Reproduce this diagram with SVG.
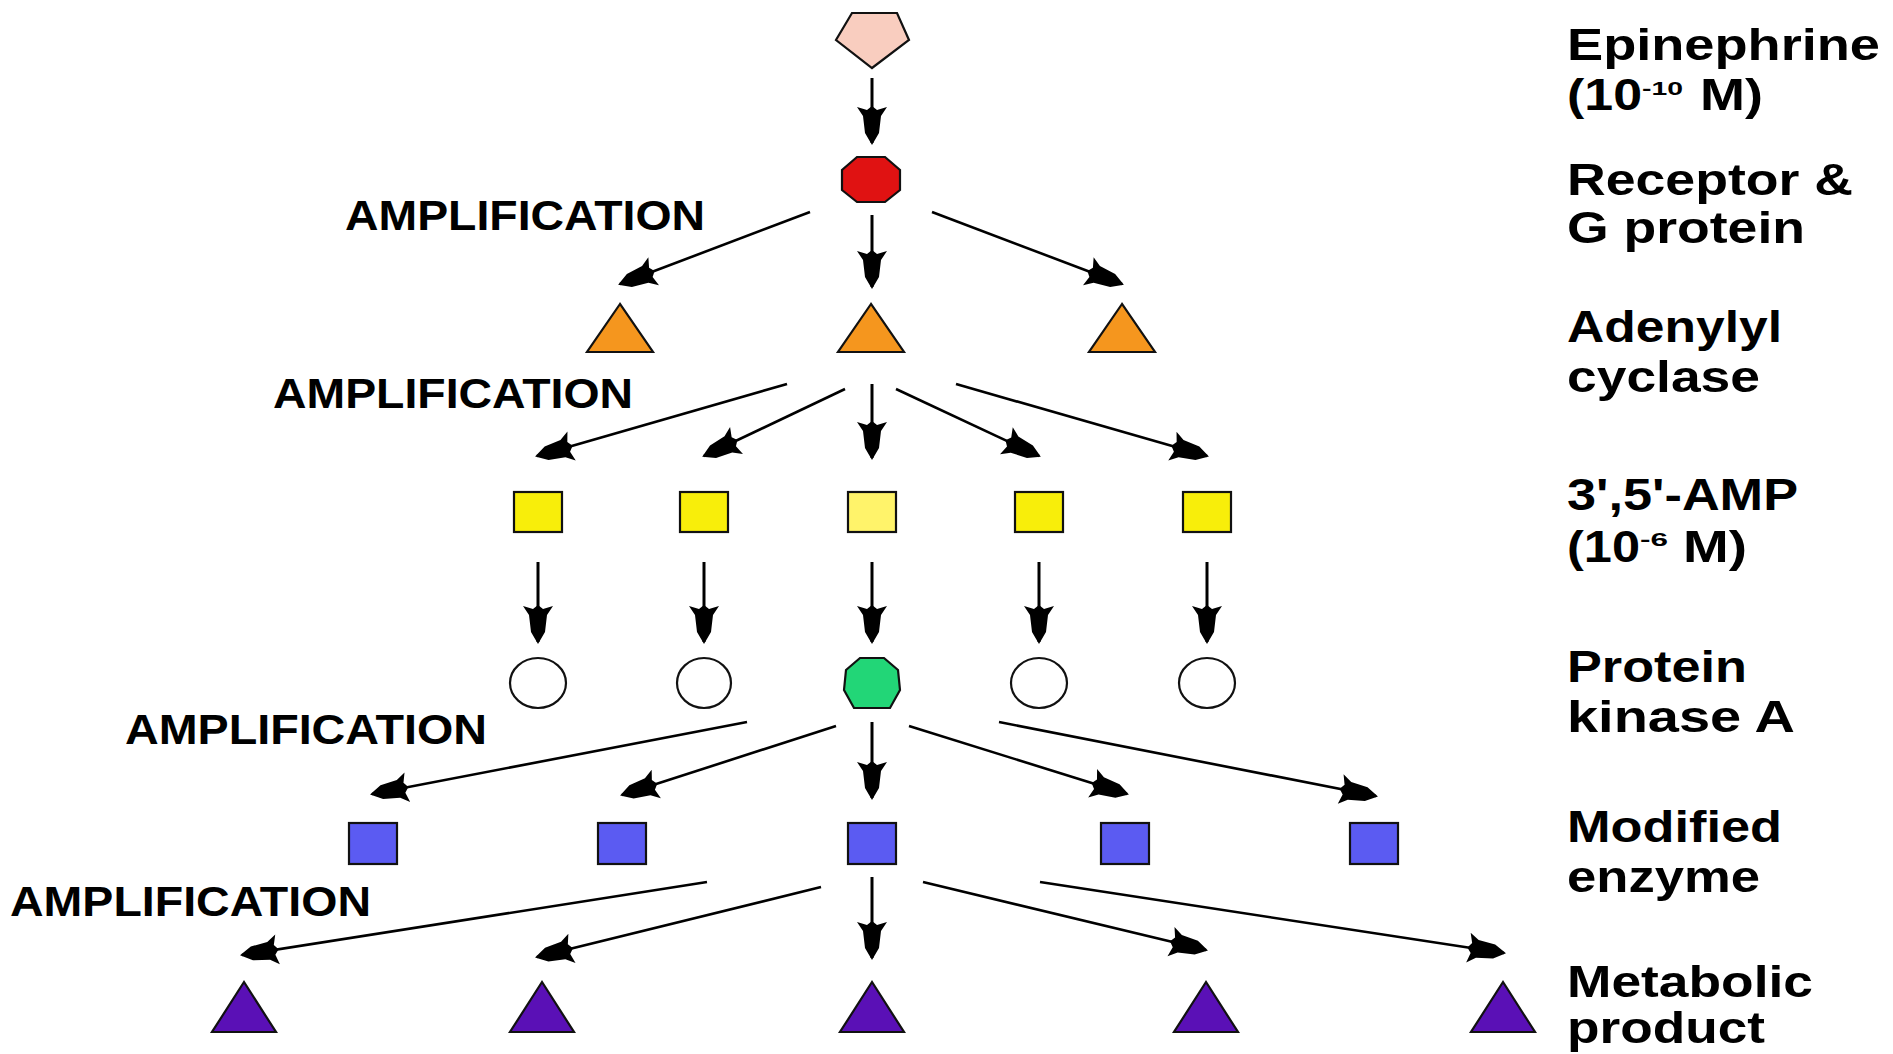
<svg xmlns="http://www.w3.org/2000/svg" width="1893" height="1054" viewBox="0 0 1893 1054">
<style>
  .lbl { font-family: "Liberation Sans", Arial, sans-serif; font-weight: bold; font-size: 44px; fill: #000; }
  .amp { font-family: "Liberation Sans", Arial, sans-serif; font-weight: bold; font-size: 42px; fill: #000; }
  .sup { font-family: "Liberation Sans", Arial, sans-serif; font-weight: bold; font-size: 19px; fill: #000; }
  .edge { stroke: #000; stroke-width: 3; fill: none; marker-end: url(#ah); }
  .diag { stroke-width: 2.6; }
  .ol { stroke: #111; stroke-width: 2.2; }
  .tri-o { fill: #f5961e; }
  .sq-y { fill: #f8ee0a; }
  .pka { fill: #ffffff; }
  .sq-b { fill: #5b5bf2; }
  .tri-p { fill: #5a10b6; }
</style>
<defs>
  <marker id="ah" viewBox="-40 -17 42 34" refX="0" refY="0" markerWidth="42" markerHeight="34" orient="auto" markerUnits="userSpaceOnUse" overflow="visible">
    <path d="M 2 0 L -10 -7 L -27 -9 L -36 -15 L -33 -5 L -37 0 L -33 5 L -36 15 L -27 9 L -10 7 Z" fill="#000"/>
  </marker>
</defs>
<rect width="1893" height="1054" fill="#fff"/>

<g id="connectors">
  <line class="edge" x1="872" y1="78" x2="872" y2="143"/>
  <line class="edge" x1="872" y1="215" x2="872" y2="287"/>
  <line class="edge diag" x1="810" y1="212" x2="620" y2="284"/>
  <line class="edge diag" x1="932" y1="212" x2="1122" y2="284"/>

  <line class="edge" x1="872" y1="384" x2="872" y2="458"/>
  <line class="edge diag" x1="787" y1="384" x2="537" y2="456"/>
  <line class="edge diag" x1="845" y1="389" x2="704" y2="456"/>
  <line class="edge diag" x1="896" y1="389" x2="1039" y2="456"/>
  <line class="edge diag" x1="956" y1="384" x2="1207" y2="456"/>

  <line class="edge" x1="538" y1="562" x2="538" y2="642"/>
  <line class="edge" x1="704" y1="562" x2="704" y2="642"/>
  <line class="edge" x1="872" y1="562" x2="872" y2="642"/>
  <line class="edge" x1="1039" y1="562" x2="1039" y2="642"/>
  <line class="edge" x1="1207" y1="562" x2="1207" y2="642"/>

  <line class="edge" x1="872" y1="722" x2="872" y2="798"/>
  <line class="edge diag" x1="747" y1="722" x2="372" y2="794"/>
  <line class="edge diag" x1="836" y1="726" x2="622" y2="795"/>
  <line class="edge diag" x1="909" y1="726" x2="1127" y2="794"/>
  <line class="edge diag" x1="999" y1="722" x2="1376" y2="796"/>

  <line class="edge" x1="872" y1="877" x2="872" y2="958"/>
  <line class="edge diag" x1="707" y1="882" x2="242" y2="955"/>
  <line class="edge diag" x1="821" y1="887" x2="537" y2="957"/>
  <line class="edge diag" x1="923" y1="882" x2="1206" y2="950"/>
  <line class="edge diag" x1="1040" y1="882" x2="1504" y2="953"/>
</g>

<g id="epinephrine">
  <polygon class="ol" points="852,13 897,13 909,40 872,68 836,40" fill="#f9cdbf"/>
</g>
<g id="receptor">
  <polygon class="ol" points="857,157 885,157 900,170 900,190 885,202 857,202 842,190 842,170" fill="#e01212" stroke="#8a0000"/>
</g>

<g id="cyclase-1"><polygon class="ol tri-o" points="620,304 587,352 653,352"/></g>
<g id="cyclase-2"><polygon class="ol tri-o" points="871,304 838,352 904,352"/></g>
<g id="cyclase-3"><polygon class="ol tri-o" points="1122,304 1089,352 1155,352"/></g>

<g id="camp-1"><rect class="ol sq-y" x="514" y="492" width="48" height="40"/></g>
<g id="camp-2"><rect class="ol sq-y" x="680" y="492" width="48" height="40"/></g>
<g id="camp-3"><rect class="ol" x="848" y="492" width="48" height="40" fill="#fff36a"/></g>
<g id="camp-4"><rect class="ol sq-y" x="1015" y="492" width="48" height="40"/></g>
<g id="camp-5"><rect class="ol sq-y" x="1183" y="492" width="48" height="40"/></g>

<g id="pka-1"><ellipse class="ol pka" cx="538" cy="683" rx="28" ry="25"/></g>
<g id="pka-2"><ellipse class="ol pka" cx="704" cy="683" rx="27" ry="25"/></g>
<g id="pka-3"><polygon class="ol" points="860,658 884,658 898,670 900,690 890,708 854,708 844,690 846,670" fill="#22d677"/></g>
<g id="pka-4"><ellipse class="ol pka" cx="1039" cy="683" rx="28" ry="25"/></g>
<g id="pka-5"><ellipse class="ol pka" cx="1207" cy="683" rx="28" ry="25"/></g>

<g id="enzyme-1"><rect class="ol sq-b" x="349" y="823" width="48" height="41"/></g>
<g id="enzyme-2"><rect class="ol sq-b" x="598" y="823" width="48" height="41"/></g>
<g id="enzyme-3"><rect class="ol sq-b" x="848" y="823" width="48" height="41"/></g>
<g id="enzyme-4"><rect class="ol sq-b" x="1101" y="823" width="48" height="41"/></g>
<g id="enzyme-5"><rect class="ol sq-b" x="1350" y="823" width="48" height="41"/></g>

<g id="product-1"><polygon class="ol tri-p" points="244,982 212,1032 276,1032"/></g>
<g id="product-2"><polygon class="ol tri-p" points="542,982 510,1032 574,1032"/></g>
<g id="product-3"><polygon class="ol tri-p" points="872,982 840,1032 904,1032"/></g>
<g id="product-4"><polygon class="ol tri-p" points="1206,982 1174,1032 1238,1032"/></g>
<g id="product-5"><polygon class="ol tri-p" points="1503,982 1471,1032 1535,1032"/></g>

<g id="amplification-labels">
  <text class="amp" x="345" y="230" textLength="360" lengthAdjust="spacingAndGlyphs">AMPLIFICATION</text>
  <text class="amp" x="273" y="408" textLength="360" lengthAdjust="spacingAndGlyphs">AMPLIFICATION</text>
  <text class="amp" x="125" y="744" textLength="362" lengthAdjust="spacingAndGlyphs">AMPLIFICATION</text>
  <text class="amp" x="10" y="916" textLength="361" lengthAdjust="spacingAndGlyphs">AMPLIFICATION</text>
</g>

<g id="row-labels">
  <text class="lbl" x="1567" y="60" textLength="313" lengthAdjust="spacingAndGlyphs">Epinephrine</text>
  <text class="lbl" x="1567" y="110" textLength="75" lengthAdjust="spacingAndGlyphs">(10</text>
  <text class="sup" x="1642" y="95" textLength="41" lengthAdjust="spacingAndGlyphs">-10</text>
  <text class="lbl" x="1700" y="110" textLength="63" lengthAdjust="spacingAndGlyphs">M)</text>

  <text class="lbl" x="1567" y="195" textLength="286" lengthAdjust="spacingAndGlyphs">Receptor &amp;</text>
  <text class="lbl" x="1567" y="243" textLength="238" lengthAdjust="spacingAndGlyphs">G protein</text>

  <text class="lbl" x="1567" y="342" textLength="215" lengthAdjust="spacingAndGlyphs">Adenylyl</text>
  <text class="lbl" x="1567" y="392" textLength="193" lengthAdjust="spacingAndGlyphs">cyclase</text>

  <text class="lbl" x="1567" y="510" textLength="231" lengthAdjust="spacingAndGlyphs">3',5'-AMP</text>
  <text class="lbl" x="1567" y="562" textLength="73" lengthAdjust="spacingAndGlyphs">(10</text>
  <text class="sup" x="1640" y="546" textLength="28" lengthAdjust="spacingAndGlyphs">-6</text>
  <text class="lbl" x="1683" y="562" textLength="64" lengthAdjust="spacingAndGlyphs">M)</text>

  <text class="lbl" x="1567" y="682" textLength="180" lengthAdjust="spacingAndGlyphs">Protein</text>
  <text class="lbl" x="1567" y="732" textLength="228" lengthAdjust="spacingAndGlyphs">kinase  A</text>

  <text class="lbl" x="1567" y="842" textLength="215" lengthAdjust="spacingAndGlyphs">Modified</text>
  <text class="lbl" x="1567" y="892" textLength="193" lengthAdjust="spacingAndGlyphs">enzyme</text>

  <text class="lbl" x="1567" y="997" textLength="246" lengthAdjust="spacingAndGlyphs">Metabolic</text>
  <text class="lbl" x="1567" y="1043" textLength="198" lengthAdjust="spacingAndGlyphs">product</text>
</g>
</svg>
